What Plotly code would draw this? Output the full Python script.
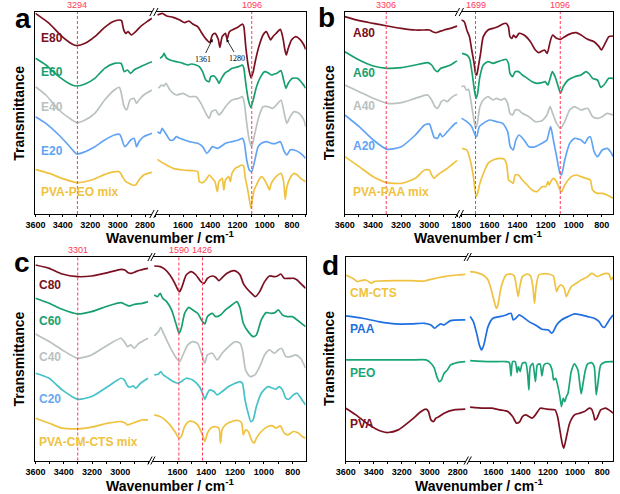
import plotly.graph_objects as go

# ---------------- data (wavenumber cm-1, transmittance a.u.) ----------------
# Panel a: PVA-PEO series
E80_L = [(3600,600),(3500,570),(3405,530),(3333,508),(3298,503),(3238,510),(3167,530),(3095,558),(3036,575),(2988,580),(2972,578),(2957,552),(2941,540),(2924,545),(2900,535),(2869,545),(2834,560),(2786,575),(2750,585)]
E80_R = [(1788,595),(1754,600),(1721,592),(1673,588),(1625,580),(1589,572),(1558,577),(1529,568),(1493,560),(1469,545),(1445,530),(1421,518),(1404,512),(1385,535),(1366,540),(1342,522),(1330,498),(1313,530),(1289,540),(1277,522),(1260,545),(1229,552),(1193,560),(1164,568),(1154,560),(1140,500),(1121,440),(1102,407),(1085,425),(1068,460),(1044,500),(1013,535),(989,545),(972,532),(958,520),(941,530),(917,540),(886,552),(869,530),(852,490),(842,475),(828,495),(804,520),(773,530),(742,522),(713,505),(700,492)]
E60_L = [(3600,465),(3524,445),(3429,410),(3333,385),(3298,382),(3238,388),(3167,405),(3095,435),(3024,450),(2976,450),(2965,440),(2953,425),(2929,430),(2905,420),(2881,430),(2834,440),(2750,455)]
E60_R = [(1769,465),(1750,472),(1740,480),(1726,468),(1697,460),(1649,455),(1601,450),(1565,445),(1541,448),(1505,445),(1481,440),(1457,425),(1433,400),(1409,395),(1397,410),(1373,412),(1349,400),(1337,390),(1318,405),(1289,422),(1265,428),(1241,435),(1193,440),(1164,445),(1154,435),(1140,390),(1121,340),(1102,318),(1085,340),(1061,380),(1030,410),(1001,425),(977,422),(953,415),(929,418),(905,422),(881,428),(862,400),(845,375),(828,390),(797,405),(761,405),(725,390),(700,375)]
E40_L = [(3600,380),(3524,355),(3429,310),(3333,280),(3298,272),(3238,280),(3167,300),(3095,340),(3024,370),(2988,378),(2976,365),(2953,320),(2934,310),(2910,340),(2881,345),(2862,330),(2845,340),(2810,355),(2750,370)]
E40_R = [(1781,375),(1757,385),(1740,382),(1726,390),(1697,370),(1649,355),(1601,360),(1553,350),(1505,350),(1469,330),(1433,300),(1409,285),(1390,305),(1361,310),(1337,295),(1313,305),(1289,320),(1241,340),(1193,345),(1164,350),(1150,330),(1133,270),(1114,220),(1097,200),(1073,240),(1044,290),(1013,320),(977,320),(941,315),(905,330),(881,340),(857,300),(838,270),(814,290),(785,305),(749,300),(713,280),(700,260)]
E20_L = [(3600,290),(3524,270),(3429,235),(3360,205),(3298,178),(3238,185),(3167,200),(3095,220),(3024,235),(2988,237),(2976,230),(2948,200),(2924,210),(2905,220),(2881,225),(2862,200),(2845,215),(2810,230),(2750,240)]
E20_R = [(1788,245),(1769,240),(1754,255),(1745,250),(1721,235),(1697,220),(1673,220),(1649,230),(1625,225),(1589,220),(1553,215),(1493,210),(1457,200),(1426,180),(1404,190),(1385,200),(1349,195),(1325,200),(1289,210),(1241,215),(1193,220),(1164,225),(1150,210),(1133,160),(1114,130),(1097,125),(1073,160),(1049,200),(1025,210),(989,215),(953,210),(917,210),(886,215),(857,185),(838,175),(814,190),(785,190),(737,180),(700,165)]
PEO_MIX_L = [(3600,132),(3500,120),(3405,105),(3298,92),(3191,100),(3072,120),(2988,125),(2965,110),(2941,95),(2917,90),(2893,85),(2869,85),(2845,100),(2810,115),(2750,123)]
PEO_MIX_R = [(1788,162),(1745,150),(1673,135),(1601,130),(1529,128),(1493,125),(1481,95),(1457,92),(1433,100),(1409,115),(1385,105),(1366,95),(1349,65),(1337,95),(1313,105),(1301,70),(1289,100),(1265,110),(1253,95),(1241,120),(1217,135),(1193,140),(1169,145),(1154,140),(1145,110),(1130,80),(1121,60),(1109,30),(1102,15),(1092,40),(1078,70),(1061,85),(1044,100),(1025,110),(1001,100),(977,80),(965,70),(953,90),(917,110),(881,120),(862,95),(850,42),(838,80),(809,110),(785,120),(761,115),(737,105),(700,95)]

# Panel b: PVA-PAA series
A80_L = [(3600,590),(3498,578),(3398,570),(3299,562),(3199,555),(3099,550),(3034,550),(2999,550),(2976,545),(2953,542),(2930,545),(2895,550),(2849,555),(2814,560),(2800,562)]
A80_R = [(1800,580),(1779,575),(1761,550),(1742,530),(1726,490),(1709,450),(1698,418),(1691,415),(1679,440),(1663,480),(1644,530),(1610,550),(1575,555),(1540,560),(1505,568),(1482,570),(1465,560),(1454,530),(1440,525),(1428,535),(1412,527),(1389,540),(1354,535),(1308,515),(1273,490),(1249,482),(1226,487),(1208,490),(1189,480),(1168,515),(1150,535),(1122,525),(1094,522),(1064,530),(1017,540),(982,542),(948,535),(901,522),(855,515),(820,500),(803,490),(774,512),(750,530),(720,532)]
A60_L = [(3600,485),(3498,460),(3398,442),(3299,435),(3199,437),(3099,445),(3011,452),(2983,445),(2960,430),(2941,425),(2918,435),(2883,440),(2849,445),(2814,455),(2800,457)]
A60_R = [(1795,480),(1761,475),(1742,465),(1723,420),(1707,370),(1695,345),(1684,360),(1668,410),(1644,445),(1610,455),(1575,450),(1540,455),(1505,460),(1482,462),(1465,450),(1454,420),(1435,410),(1417,425),(1393,425),(1366,415),(1331,405),(1296,395),(1261,390),(1226,392),(1203,395),(1184,385),(1168,405),(1152,425),(1133,410),(1110,380),(1094,360),(1075,380),(1040,400),(994,410),(948,415),(913,425),(889,418),(866,405),(831,400),(808,378),(785,385),(750,405),(720,405)]
A40_L = [(3600,385),(3498,365),(3398,345),(3299,330),(3199,332),(3099,345),(3011,355),(2983,340),(2960,320),(2941,315),(2914,335),(2895,340),(2872,335),(2849,345),(2814,355),(2800,357)]
A40_R = [(1800,380),(1779,382),(1765,370),(1749,372),(1733,340),(1714,290),(1698,255),(1686,270),(1668,320),(1644,340),(1610,350),(1575,340),(1551,345),(1517,340),(1493,345),(1470,330),(1454,300),(1435,295),(1417,310),(1393,310),(1366,300),(1319,290),(1273,275),(1226,278),(1191,295),(1168,320),(1150,300),(1122,270),(1094,255),(1064,275),(1029,310),(994,320),(948,310),(901,315),(866,290),(831,285),(797,290),(762,300),(720,295)]
A20_L = [(3600,295),(3498,260),(3398,220),(3299,192),(3199,200),(3099,235),(3034,265),(2999,268),(2983,250),(2965,228),(2941,225),(2923,240),(2907,230),(2872,245),(2814,270),(2800,272)]
A20_R = [(1800,285),(1761,275),(1726,260),(1702,235),(1691,230),(1672,260),(1644,270),(1598,280),(1551,275),(1505,270),(1470,245),(1452,200),(1431,190),(1412,220),(1389,235),(1354,220),(1319,200),(1273,200),(1226,210),(1191,220),(1175,245),(1164,260),(1145,220),(1122,170),(1098,120),(1087,115),(1064,160),(1029,210),(994,225),(948,220),(920,210),(901,225),(882,230),(855,185),(831,170),(797,190),(762,195),(738,185),(720,170)]
PAA_MIX_L = [(3600,170),(3498,140),(3398,110),(3299,92),(3199,90),(3099,105),(3034,130),(2999,130),(2983,115),(2965,105),(2941,115),(2907,125),(2872,135),(2814,155),(2800,158)]
PAA_MIX_R = [(1795,195),(1761,190),(1737,160),(1714,110),(1695,50),(1684,60),(1668,90),(1633,130),(1610,150),(1575,160),(1528,165),(1493,162),(1477,145),(1463,100),(1447,95),(1431,90),(1417,115),(1393,115),(1366,100),(1331,85),(1296,70),(1261,65),(1226,80),(1198,80),(1184,95),(1175,85),(1164,95),(1145,105),(1122,95),(1098,70),(1087,65),(1064,85),(1017,110),(982,115),(948,110),(913,105),(882,100),(866,70),(831,60),(797,60),(762,55),(720,45)]

# Panel c: PVA-CM-CTS series
C80_L = [(3600,587),(3503,577),(3411,560),(3302,552),(3203,554),(3088,564),(2995,574),(2968,572),(2945,564),(2921,562),(2891,567),(2857,572),(2804,577)]
C80_R = [(1761,584),(1720,582),(1686,574),(1652,557),(1618,532),(1596,512),(1584,507),(1568,522),(1539,557),(1505,567),(1471,557),(1437,537),(1414,532),(1392,547),(1358,554),(1335,550),(1312,540),(1294,547),(1256,562),(1211,570),(1188,567),(1165,557),(1143,532),(1120,517),(1086,502),(1059,492),(1029,507),(995,537),(961,554),(927,552),(905,554),(882,560),(859,547),(826,547),(791,547),(769,542),(735,527),(710,517)]
C60_L = [(3600,487),(3503,472),(3411,454),(3302,440),(3203,447),(3088,464),(2995,474),(2972,470),(2938,464),(2915,467),(2880,470),(2845,472),(2804,477)]
C60_R = [(1761,497),(1738,492),(1720,502),(1702,487),(1675,477),(1641,452),(1611,412),(1589,382),(1573,397),(1550,442),(1521,460),(1494,452),(1460,442),(1426,417),(1410,410),(1392,432),(1358,442),(1335,432),(1301,437),(1267,452),(1222,467),(1188,477),(1165,457),(1143,412),(1109,387),(1075,372),(1052,377),(1018,422),(984,444),(950,442),(923,444),(900,452),(871,437),(837,432),(803,432),(769,422),(735,410),(710,402)]
C40_L = [(3600,380),(3503,357),(3411,332),(3302,307),(3203,317),(3088,347),(2995,367),(2972,357),(2949,342),(2926,347),(2903,337),(2868,352),(2834,360),(2804,367)]
C40_R = [(1761,374),(1731,387),(1716,400),(1702,387),(1675,362),(1641,332),(1607,307),(1584,297),(1562,317),(1528,347),(1494,357),(1460,352),(1426,312),(1410,292),(1392,317),(1358,322),(1324,302),(1290,322),(1245,342),(1199,357),(1165,352),(1149,332),(1127,272),(1097,252),(1063,257),(1029,282),(995,317),(961,332),(927,322),(900,332),(877,337),(848,312),(814,312),(780,317),(746,307),(710,277)]
C20_L = [(3600,262),(3503,247),(3411,212),(3302,184),(3203,192),(3088,222),(2995,247),(2972,242),(2949,224),(2931,220),(2908,224),(2891,217),(2857,232),(2804,247)]
C20_R = [(1761,257),(1731,260),(1716,267),(1698,257),(1664,247),(1630,237),(1596,232),(1573,237),(1539,247),(1494,242),(1448,222),(1426,202),(1410,184),(1392,202),(1376,212),(1346,207),(1324,197),(1290,207),(1245,222),(1199,232),(1165,237),(1149,232),(1131,182),(1109,142),(1091,117),(1075,122),(1052,162),(1018,202),(973,222),(939,217),(916,214),(894,222),(871,212),(848,187),(826,184),(796,197),(769,202),(735,182),(710,167)]
CTS_MIX_L = [(3600,127),(3503,112),(3411,97),(3302,95),(3203,100),(3088,112),(2995,117),(2972,114),(2949,107),(2915,112),(2880,117),(2845,122),(2804,122)]
CTS_MIX_R = [(1761,137),(1720,132),(1686,122),(1652,107),(1618,87),(1589,67),(1573,72),(1550,102),(1521,117),(1494,117),(1460,107),(1426,77),(1410,57),(1392,82),(1369,97),(1340,102),(1312,97),(1301,52),(1290,92),(1267,107),(1222,117),(1177,120),(1154,112),(1143,77),(1127,92),(1109,87),(1086,62),(1068,52),(1052,67),(1018,87),(973,102),(939,104),(916,97),(886,104),(859,82),(832,77),(796,87),(758,82),(735,72),(710,67)]

# Panel d: pure components
CTS_L = [(3600,557),(3551,547),(3516,537),(3493,540),(3458,542),(3435,537),(3416,532),(3400,537),(3365,539),(3248,540),(3131,540),(3038,539),(2992,544),(2898,552),(2805,557),(2747,559)]
CTS_R = [(1773,567),(1725,564),(1677,557),(1641,542),(1617,512),(1592,472),(1580,457),(1568,467),(1544,522),(1508,557),(1472,560),(1448,554),(1436,532),(1419,492),(1407,522),(1388,552),(1352,560),(1328,554),(1311,522),(1299,472),(1287,522),(1268,557),(1244,560),(1196,560),(1160,554),(1148,532),(1136,507),(1119,522),(1100,527),(1080,517),(1064,492),(1047,507),(1028,522),(992,532),(955,542),(931,547),(907,552),(878,562),(854,557),(835,552),(811,557),(775,562),(751,560),(734,542),(720,552)]
PAA_L = [(3600,434),(3481,427),(3365,417),(3248,410),(3131,410),(3038,412),(2992,407),(2964,397),(2945,404),(2922,410),(2898,407),(2852,420),(2747,422)]
PAA_R = [(1773,432),(1749,417),(1725,382),(1705,347),(1689,332),(1672,347),(1641,402),(1605,427),(1556,432),(1508,437),(1472,442),(1455,422),(1436,427),(1412,437),(1388,432),(1340,417),(1292,407),(1244,394),(1196,392),(1172,382),(1160,387),(1136,407),(1100,422),(1052,432),(1004,440),(955,437),(907,432),(859,427),(823,417),(799,402),(782,400),(763,412),(739,427),(720,437)]
PEO_L = [(3600,302),(3365,302),(3131,302),(3027,302),(2992,292),(2968,277),(2950,252),(2933,237),(2917,242),(2898,262),(2875,272),(2852,287),(2805,294),(2747,297)]
PEO_R = [(1773,300),(1629,297),(1508,297),(1484,294),(1472,254),(1460,297),(1441,297),(1426,264),(1417,282),(1405,267),(1388,292),(1364,294),(1350,262),(1340,212),(1330,282),(1311,292),(1292,237),(1278,287),(1258,290),(1244,254),(1229,287),(1205,292),(1184,287),(1167,267),(1158,242),(1143,247),(1129,227),(1112,192),(1100,162),(1088,187),(1076,177),(1064,192),(1052,202),(1028,267),(1004,290),(979,272),(967,237),(955,200),(941,232),(924,272),(907,290),(878,294),(859,282),(844,197),(830,237),(811,287),(775,296),(720,297)]
PVA_L = [(3600,157),(3528,137),(3435,107),(3341,87),(3299,84),(3225,92),(3131,122),(3062,147),(3027,154),(3010,147),(2992,122),(2973,117),(2957,127),(2933,132),(2898,142),(2828,152),(2747,154)]
PVA_R = [(1773,160),(1677,157),(1617,157),(1556,152),(1496,147),(1460,132),(1431,112),(1407,117),(1388,132),(1364,137),(1340,132),(1316,127),(1292,137),(1256,157),(1208,154),(1148,152),(1129,132),(1112,92),(1095,52),(1083,37),(1068,62),(1040,112),(1004,137),(967,142),(931,147),(895,157),(878,154),(863,137),(854,122),(839,127),(811,152),(775,157),(751,152),(720,142)]

# marker lines (cm-1)
MARK_A = [3294, 1096]
MARK_B = [3306, 1699, 1096]
MARK_C = [3301, 1590, 1426]

# ---------------- styling ----------------
W, H = 620, 494
DRED, GREEN, GRAY, LBLUE, YELLOW = "#7b1020", "#17a06e", "#b9c1c1", "#62a4f4", "#efc240"
CYAN, C20LAB, PBLUE, PGREEN = "#45c2c8", "#6aa8f0", "#1f6fe0", "#19a579"
RED = "#ff3858"
FONT = "Arial, Liberation Sans, sans-serif"

def fx(p): return p / W
def fy(p): return 1 - p / H

panels = [
    dict(left=(26, 145), right=(149, 302), top=12, bottom=214, lr=[3600, 2750], rr=[1800, 700], yr=[-2, 604],
         lt=[3600, 3400, 3200, 3000, 2800], rt=[1600, 1400, 1200, 1000, 800], marks=MARK_A, letter="a",
         curves=[(E80_L, E80_R, DRED, "E80", DRED, 38), (E60_L, E60_R, GREEN, "E60", GREEN, 72),
                 (E40_L, E40_R, GRAY, "E40", GRAY, 107), (E20_L, E20_R, LBLUE, "E20", LBLUE, 151),
                 (PEO_MIX_L, PEO_MIX_R, YELLOW, "PVA-PEO mix", YELLOW, 192)], labx=30, title_y=237, letter_xy=(13, 19)),
    dict(left=(342, 457), right=(461, 616), top=12, bottom=214, lr=[3600, 2800], rr=[1800, 720], yr=[-2, 604],
         lt=[3600, 3400, 3200, 3000], rt=[1800, 1600, 1400, 1200, 1000, 800], marks=MARK_B, letter="b",
         curves=[(A80_L, A80_R, DRED, "A80", DRED, 33), (A60_L, A60_R, GREEN, "A60", GREEN, 73),
                 (A40_L, A40_R, GRAY, "A40", GRAY, 106), (A20_L, A20_R, LBLUE, "A20", LBLUE, 146),
                 (PAA_MIX_L, PAA_MIX_R, YELLOW, "PVA-PAA mix", YELLOW, 192)], labx=348, title_y=237, letter_xy=(323, 17)),
    dict(left=(26, 143), right=(146, 302), top=257, bottom=460.5, lr=[3600, 2790], rr=[1770, 710], yr=[0, 611],
         lt=[3600, 3400, 3200, 3000], rt=[1600, 1400, 1200, 1000, 800], marks=MARK_C, letter="c",
         curves=[(C80_L, C80_R, DRED, "C80", DRED, 285), (C60_L, C60_R, GREEN, "C60", GREEN, 321),
                 (C40_L, C40_R, GRAY, "C40", GRAY, 357), (C20_L, C20_R, CYAN, "C20", C20LAB, 399),
                 (CTS_MIX_L, CTS_MIX_R, YELLOW, "PVA-CM-CTS mix", YELLOW, 442)], labx=28, title_y=484.5, letter_xy=(12, 262)),
    dict(left=(343, 466), right=(469, 616), top=257, bottom=460.5, lr=[3600, 2740], rr=[1780, 720], yr=[0, 611],
         lt=[3600, 3400, 3200, 3000, 2800], rt=[1600, 1400, 1200, 1000, 800], marks=[], letter="d",
         curves=[(CTS_L, CTS_R, YELLOW, "CM-CTS", YELLOW, 293), (PAA_L, PAA_R, PBLUE, "PAA", PBLUE, 329),
                 (PEO_L, PEO_R, PGREEN, "PEO", PGREEN, 373), (PVA_L, PVA_R, DRED, "PVA", DRED, 424)],
         labx=345, title_y=484.5, letter_xy=(327, 265)),
]

fig = go.Figure()
layout = dict(width=W, height=H, margin=dict(l=0, r=0, t=0, b=0), paper_bgcolor="white",
              plot_bgcolor="white", showlegend=False, font=dict(family=FONT, color="black"))
shapes, annos = [], []

def minor_vals(r):
    hi, lo = max(r), min(r)
    return [v for v in range(4000, 0, -100) if lo <= v <= hi]

for i, p in enumerate(panels):
    nl, nr = 2 * i + 1, 2 * i + 2
    ydom = [fy(p["bottom"]), fy(p["top"])]
    for n, dom, rng, tv, side in [(nl, p["left"], p["lr"], p["lt"], "left"), (nr, p["right"], p["rr"], p["rt"], "right")]:
        xk = "xaxis" if n == 1 else f"xaxis{n}"
        yk = "yaxis" if n == 1 else f"yaxis{n}"
        layout[xk] = dict(domain=[fx(dom[0]), fx(dom[1])], range=rng, anchor=f"y{n}" if n > 1 else "y",
                          showline=True, linecolor="black", linewidth=1.2, mirror=True,
                          ticks="outside", ticklen=2, tickwidth=1, tickcolor="black",
                          tickmode="array", tickvals=tv, ticktext=[str(v) for v in tv],
                          tickfont=dict(size=9, family=FONT, weight="bold", color="black"),
                          minor=dict(ticks="outside", ticklen=2, tickwidth=1, tickcolor="black",
                                     tickmode="array", tickvals=minor_vals(rng)),
                          showgrid=False, zeroline=False, fixedrange=True)
        layout[yk] = dict(domain=ydom, range=p["yr"], anchor=f"x{n}" if n > 1 else "x", side=side,
                          showline=True, linecolor="black", linewidth=1.2, mirror=False,
                          showticklabels=False, ticks="", showgrid=False, zeroline=False, fixedrange=True)
    xl = "x" if nl == 1 else f"x{nl}"
    yl = "y" if nl == 1 else f"y{nl}"
    xr, yr = f"x{nr}", f"y{nr}"

    # curves
    for left, right, col, name, labcol, laby in p["curves"]:
        for seg, xa, ya in [(left, xl, yl), (right, xr, yr)]:
            fig.add_trace(go.Scatter(x=[a for a, b in seg], y=[b for a, b in seg], mode="lines",
                                     line=dict(color=col, width=1.7, shape="spline", smoothing=0.6),
                                     xaxis=xa, yaxis=ya, hoverinfo="skip", cliponaxis=True))
        annos.append(dict(x=fx(p["labx"]), y=fy(laby), xref="paper", yref="paper", text=name,
                          showarrow=False, xanchor="left", yanchor="middle",
                          font=dict(size=12, color=labcol, family=FONT, weight="bold")))

    # dashed marker lines
    for m in p["marks"]:
        in_left = min(p["lr"]) <= m <= max(p["lr"])
        xa = xl if in_left else xr
        ya = yl if in_left else yr
        shapes.append(dict(type="line", xref=xa, yref=f"{ya} domain", x0=m, x1=m, y0=0, y1=1,
                           line=dict(color=RED, width=1, dash="3px,2px")))
        annos.append(dict(x=m, y=1, xref=xa, yref=f"{ya} domain", text=str(m), showarrow=False,
                          yanchor="bottom", yshift=0, font=dict(size=9, color=RED, family=FONT)))

    # break marks
    for xb in (p["left"][1], p["right"][0]):
        for yb in (p["top"], p["bottom"]):
            shapes.append(dict(type="line", xref="paper", yref="paper",
                               x0=fx(xb - 2.2), y0=fy(yb + 4), x1=fx(xb + 2.2), y1=fy(yb - 4),
                               line=dict(color="black", width=1)))

    # titles
    cx = (p["left"][0] + p["right"][1]) / 2
    annos.append(dict(x=fx(cx), y=fy(p["title_y"]), xref="paper", yref="paper",
                      text="Wavenumber / cm<sup>-1</sup>", showarrow=False, xanchor="center", yanchor="middle",
                      font=dict(size=14, family=FONT, weight="bold", color="black")))
    ytx = 9 if p["left"][0] < 100 else 326
    annos.append(dict(x=fx(ytx), y=fy((p["top"] + p["bottom"]) / 2), xref="paper", yref="paper",
                      text="Transmittance", showarrow=False, textangle=-90, xanchor="center", yanchor="middle",
                      font=dict(size=14, family=FONT, weight="bold", color="black")))
    lx, ly = p["letter_xy"]
    annos.append(dict(x=fx(lx), y=fy(ly), xref="paper", yref="paper", text=p["letter"], showarrow=False,
                      xanchor="center", yanchor="middle", font=dict(size=28, family=FONT, weight="bold", color="black")))

# arrow annotations in panel a (E80 bands)
annos.append(dict(x=1383, y=523, xref="x2", yref="y2", text="1361", showarrow=True, ax=-10, ay=20,
                  arrowhead=2, arrowsize=0.8, arrowwidth=0.8, arrowcolor="black",
                  font=dict(size=8, family="Times New Roman, Liberation Serif, serif", color="black")))
annos.append(dict(x=1282, y=523, xref="x2", yref="y2", text="1280", showarrow=True, ax=11, ay=19,
                  arrowhead=2, arrowsize=0.8, arrowwidth=0.8, arrowcolor="black",
                  font=dict(size=8, family="Times New Roman, Liberation Serif, serif", color="black")))

layout["shapes"] = shapes
layout["annotations"] = annos
fig.update_layout(**layout)
fig.write_html("out.html", config={"displayModeBar": False, "staticPlot": True},
               post_script="document.body.style.margin='0';document.body.style.padding='0';")
